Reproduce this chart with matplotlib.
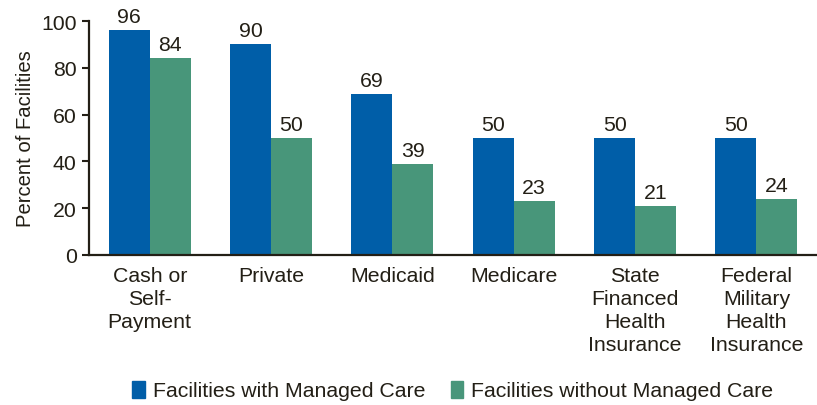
import numpy as np
import matplotlib.pyplot as plt
from matplotlib.patches import Patch

categories = ['Cash or\nSelf-\nPayment', 'Private', 'Medicaid', 'Medicare',
              'State\nFinanced\nHealth\nInsurance',
              'Federal\nMilitary\nHealth\nInsurance']
with_mc = [96, 90, 69, 50, 50, 50]
without_mc = [84, 50, 39, 23, 21, 24]
series_names = ['Facilities with Managed Care', 'Facilities without Managed Care']

blue = '#005EA8'
green = '#48967A'
text_col = '#231F16'
fs = 15.3

plt.rcParams['font.family'] = ['Liberation Sans', 'DejaVu Sans']

fig = plt.figure(figsize=(8.17, 4.06), dpi=100)
ax = fig.add_axes([0.109, 0.3695, 0.891, 0.5763])

x = np.arange(len(categories))
w = 0.337
b1 = ax.bar(x - w / 2, with_mc, w, color=blue)
b2 = ax.bar(x + w / 2, without_mc, w, color=green)

# value labels above each bar
for bars, vals in ((b1, with_mc), (b2, without_mc)):
    for bar, v in zip(bars, vals):
        ax.annotate(str(v), (bar.get_x() + bar.get_width() / 2, v),
                    xytext=(0, 8), textcoords='offset pixels',
                    ha='center', va='baseline', fontsize=fs,
                    color=text_col, annotation_clip=False)

ax.set_xlim(-0.5, len(categories) - 0.5)
ax.set_ylim(0, 100)
ax.set_yticks([0, 20, 40, 60, 80, 100])
ax.set_xticks(x)
ax.set_xticklabels(categories, fontsize=fs, color=text_col, linespacing=1.26)
ax.tick_params(axis='x', length=0, pad=8)
ax.tick_params(axis='y', labelsize=fs, labelcolor=text_col, color=text_col,
               length=5, width=1.5, direction='out', pad=4)
ax.set_ylabel('Percent of Facilities', fontsize=14.6, color=text_col, labelpad=4)

for side in ('top', 'right'):
    ax.spines[side].set_visible(False)
for side in ('left', 'bottom'):
    ax.spines[side].set_color(text_col)
    ax.spines[side].set_linewidth(1.6)

handles = [Patch(color=blue), Patch(color=green)]
fig.legend(handles, series_names, loc='lower center',
           bbox_to_anchor=(0.554, -0.036), ncol=2, frameon=False,
           fontsize=fs, labelcolor=text_col, handlelength=0.6,
           handleheight=0.85, handletextpad=0.35, columnspacing=1.2)

fig.savefig('out.png', dpi=100)
